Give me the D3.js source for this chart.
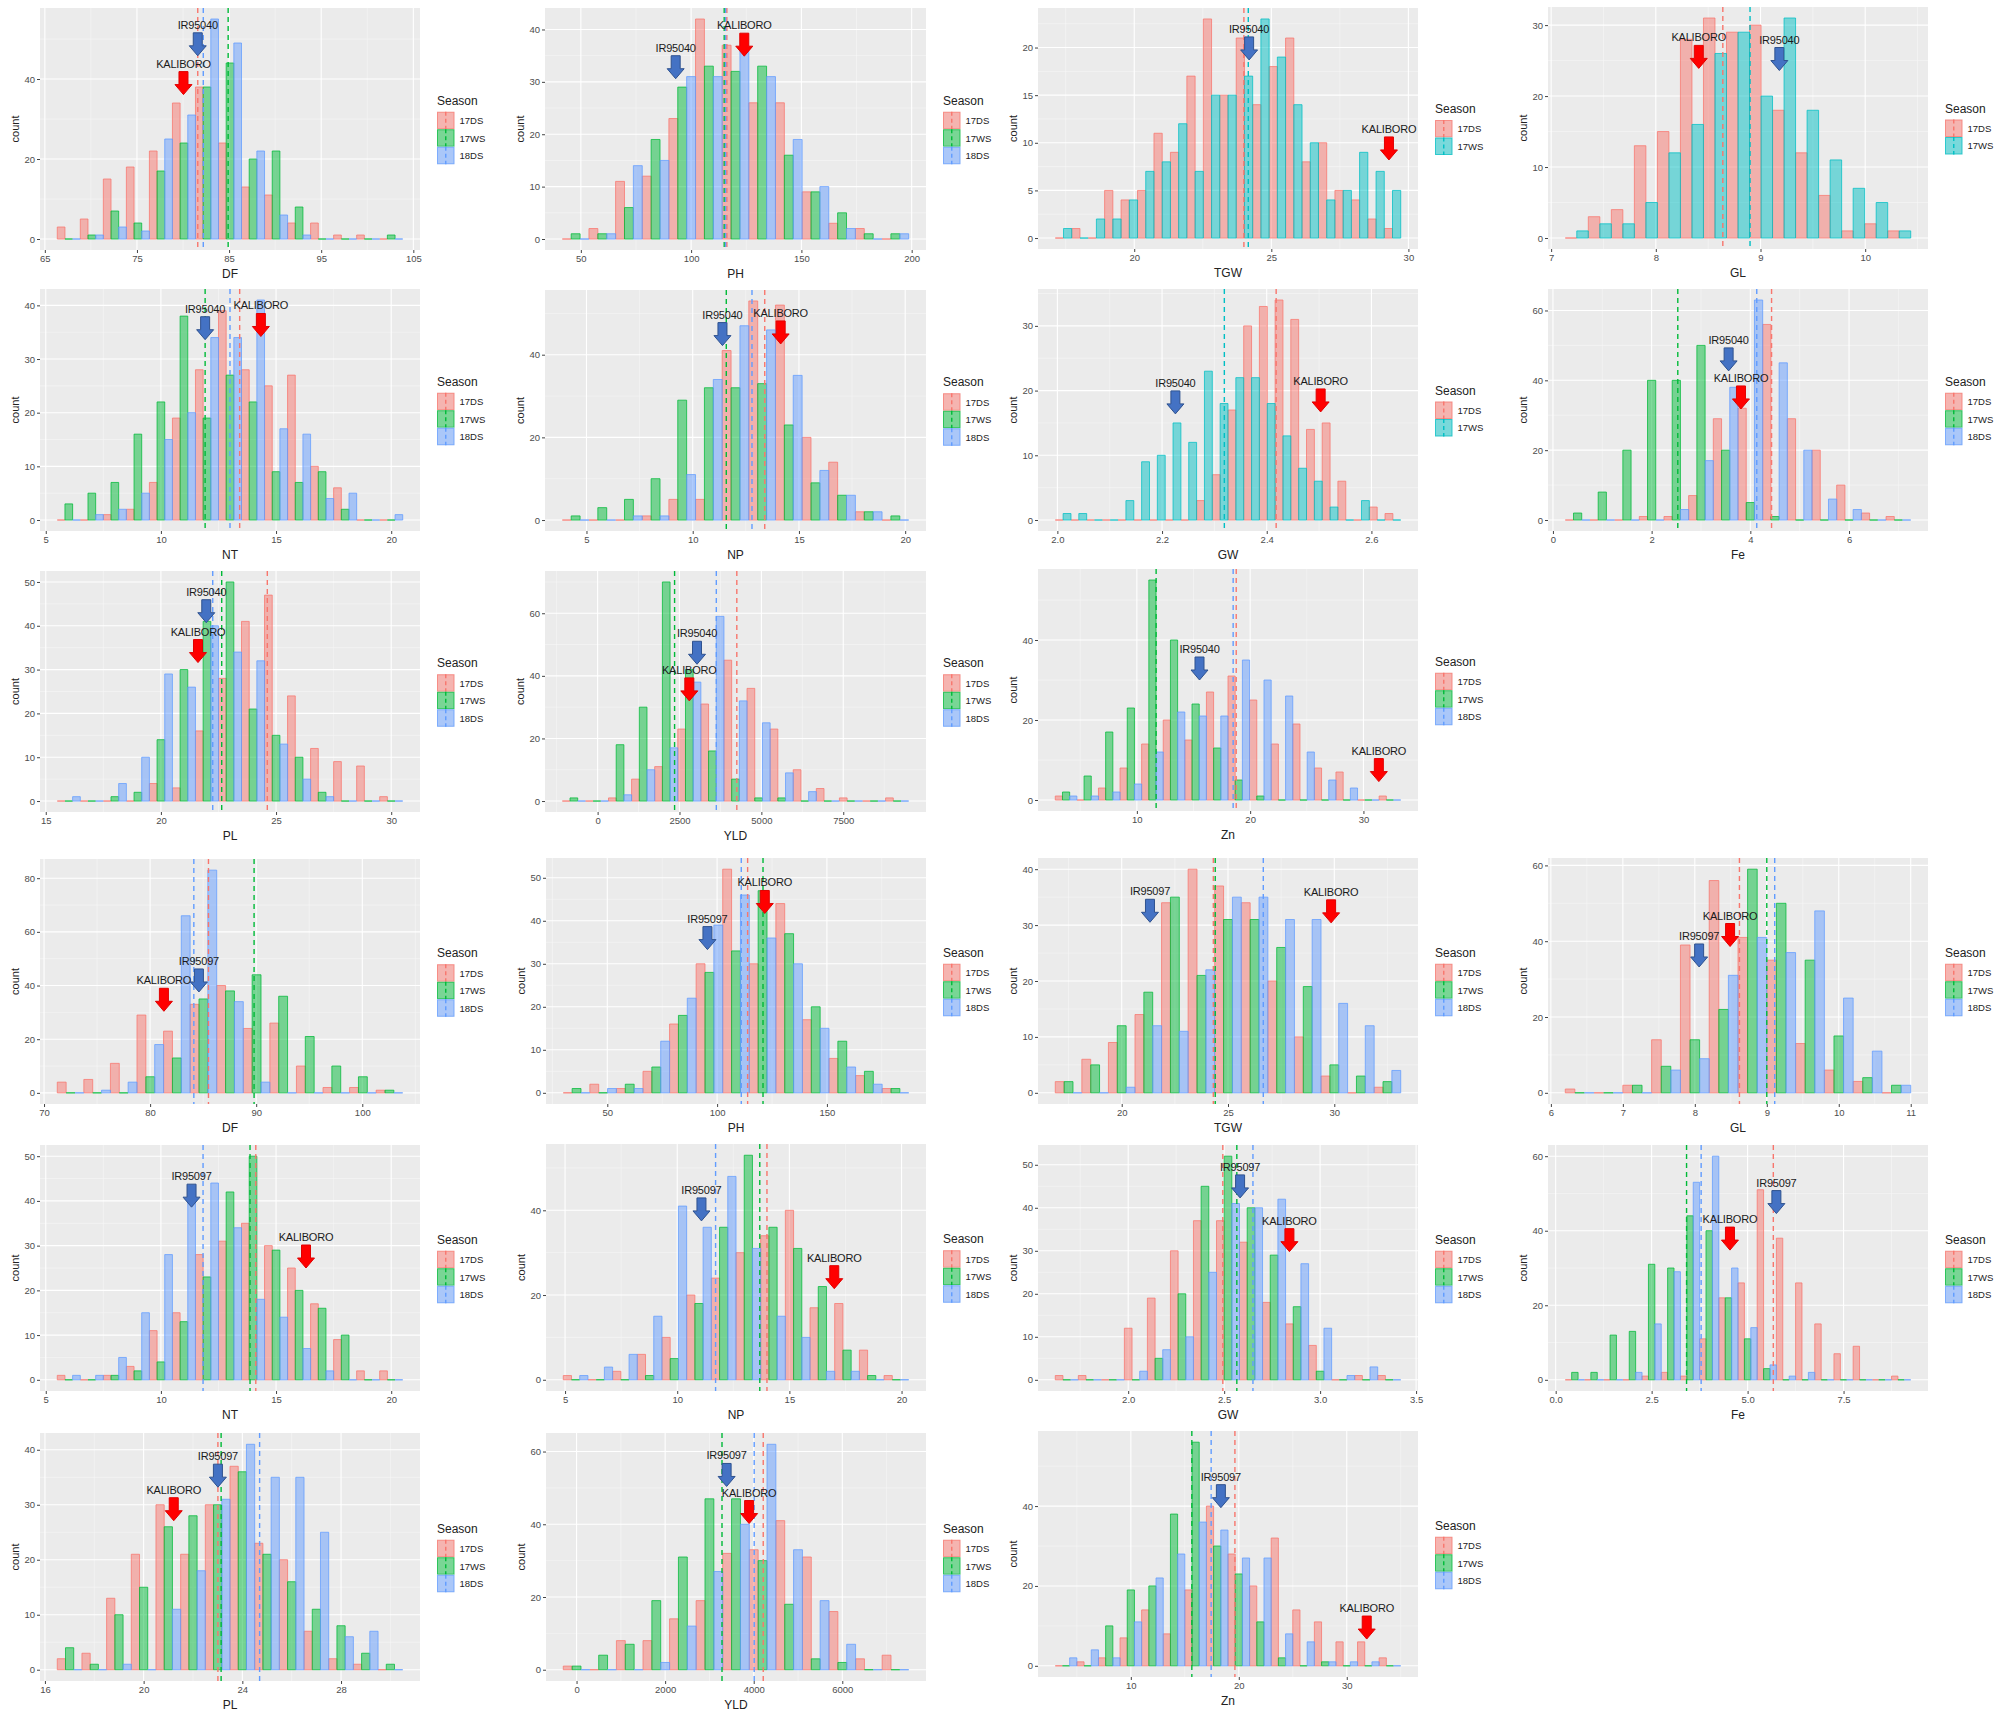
<!DOCTYPE html>
<html><head><meta charset="utf-8">
<script src="https://cdn.jsdelivr.net/npm/d3@7"></script>
<style>
body{margin:0;background:#fff;}
svg{display:block;font-family:"Liberation Sans",Arial,sans-serif;}
</style>
</head><body>
<svg id="chart" width="2007" height="1718"></svg>
<script>
// ---------------- DATA ----------------
const SEASONS3 = ["17DS","17WS","18DS"];
const SEASONS2 = ["17DS","17WS"];

// Panel 1: DF (IR95040 set)
const DF1_BIN = [67.6, 2.5];
const DF1_17DS = [3,5,15,18,22,34,38,24,13,11,4,4,1,1,0];
const DF1_17WS = [0,1,7,4,17,24,38,44,20,22,8,0,0,0,1];
const DF1_18DS = [0,1,3,2,25,31,55,49,22,6,1,0,0,0,0];
const DF1_MEAN = [81.6,84.9,82.2];
const DF1_XT = ["65","75","85","95","105"];
const DF1_YT = ["0","20","40"];
const DF1_ARROWS = [["IR95040",81.6,45.8],["KALIBORO",80.05,36.1]];

// Panel 2: PH
const PH1_BIN = [47.64, 12.08];
const PH1_17DS = [0,2,11,12,23,42,37,26,26,9,3,2,0];
const PH1_17WS = [1,1,6,19,29,33,32,33,16,9,5,1,1];
const PH1_18DS = [0,1,14,15,31,31,36,31,19,10,2,0,1];
const PH1_MEAN = [116.2,115.0,115.6];
const PH1_XT = ["50","100","150","200"];
const PH1_YT = ["0","10","20","30","40"];
const PH1_ARROWS = [["IR95040",93.0,30.6],["KALIBORO",124.1,34.9]];

// Panel 3: TGW
const TGW1_BIN = [17.42, 0.6];
const TGW1_17DS = [0,1,0,5,4,5,11,9,17,23,15,21,14,18,21,8,10,5,4,2,1];
const TGW1_17WS = [1,0,2,2,4,7,8,12,7,15,15,17,23,19,14,10,4,5,9,7,5];
const TGW1_MEAN = [24.0,24.16];
const TGW1_XT = ["20","25","30"];
const TGW1_YT = ["0","5","10","15","20"];
const TGW1_ARROWS = [["IR95040",24.19,18.7],["KALIBORO",29.29,8.2]];

// Panel 4: GL
const GL1_BIN = [7.245, 0.22];
const GL1_17DS = [0,3,4,13,15,28,31,29,30,18,12,6,1,2,1];
const GL1_17WS = [1,2,2,5,12,16,26,29,20,31,18,11,7,5,1];
const GL1_MEAN = [8.64,8.90];
const GL1_XT = ["7","8","9","10"];
const GL1_YT = ["0","10","20","30"];
const GL1_ARROWS = [["KALIBORO",8.41,23.9],["IR95040",9.18,23.6]];

// Panel 5: NT
const NT1_BIN = [6, 1];
const NT1_17DS = [0,0,1,2,7,19,28,39,28,25,27,10,6,0,0];
const NT1_17WS = [3,5,7,16,22,38,19,27,22,9,7,9,2,0,0];
const NT1_18DS = [0,1,2,5,15,20,34,34,41,17,16,4,5,0,1];
const NT1_MEAN = [13.42,11.92,13.0];
const NT1_XT = ["5","10","15","20"];
const NT1_YT = ["0","10","20","30","40"];
const NT1_ARROWS = [["IR95040",11.92,33.6],["KALIBORO",14.34,34.2]];

// Panel 6: NP
const NP1_BIN = [4.49, 1.254];
const NP1_17DS = [0,0,0,1,5,5,41,53,52,20,14,2,0];
const NP1_17WS = [1,3,5,10,29,32,32,33,23,9,6,2,1];
const NP1_18DS = [0,0,1,1,11,34,47,46,35,12,6,2,0];
const NP1_MEAN = [13.39,11.58,12.79];
const NP1_XT = ["5","10","15","20"];
const NP1_YT = ["0","20","40"];
const NP1_ARROWS = [["IR95040",11.4,42.2],["KALIBORO",14.14,42.6]];

// Panel 7: GW
const GW1_BIN = [2.011, 0.03];
const GW1_17DS = [0,0,0,0,0,0,0,0,0,3,7,17,30,33,34,31,14,15,6,0,2,1];
const GW1_17WS = [1,1,0,0,3,9,10,15,12,23,18,22,22,18,13,8,6,2,0,3,0,0];
const GW1_MEAN = [2.418,2.319];
const GW1_XT = ["2.0","2.2","2.4","2.6"];
const GW1_YT = ["0","10","20","30"];
const GW1_ARROWS = [["IR95040",2.2255,16.4],["KALIBORO",2.503,16.7]];

// Panel 8: Fe
const FE1_BIN = [0.5, 0.5];
const FE1_17DS = [0,0,0,1,1,7,29,32,56,29,20,10,2,1];
const FE1_17WS = [2,8,20,40,40,50,20,5,1,0,0,0,0,0];
const FE1_18DS = [0,0,0,0,3,17,38,63,45,20,6,3,0,0];
const FE1_MEAN = [4.43,2.53,4.13];
const FE1_XT = ["0","2","4","6"];
const FE1_YT = ["0","20","40","60"];
const FE1_ARROWS = [["IR95040",3.56,42.7],["KALIBORO",3.81,31.8]];

// Panel 9: PL
const PL1_BIN = [16, 1];
const PL1_17DS = [0,0,0,0,4,3,16,28,41,47,24,12,9,8,1];
const PL1_17WS = [0,0,1,2,14,30,41,50,21,15,10,2,0,0,0];
const PL1_18DS = [1,0,4,10,29,26,40,34,32,13,5,1,0,0,0];
const PL1_MEAN = [24.62,22.64,22.25];
const PL1_XT = ["15","20","25","30"];
const PL1_YT = ["0","10","20","30","40","50"];
const PL1_ARROWS = [["IR95040",21.97,40.7],["KALIBORO",21.61,31.6]];

// Panel 10: YLD
const YLD1_BIN = [-725, 705];
const YLD1_17DS = [0,0,1,7,11,23,31,45,36,23,10,4,1,0,1];
const YLD1_17WS = [1,0,18,30,70,42,16,7,1,1,0,0,0,0,0];
const YLD1_18DS = [0,0,2,10,17,38,59,32,25,9,3,0,0,0,0];
const YLD1_MEAN = [4250,2350,3624];
const YLD1_XT = ["0","2500","5000","7500"];
const YLD1_YT = ["0","20","40","60"];
const YLD1_ARROWS = [["IR95040",3035,43.7],["KALIBORO",2800,32]];

// Panel 11: Zn
const ZN1_BIN = [3.75, 1.906];
const ZN1_17DS = [1,0,3,8,14,20,15,27,31,25,14,19,8,7,0,1];
const ZN1_17WS = [2,6,17,23,55,40,24,13,5,1,0,0,0,0,0,0];
const ZN1_18DS = [1,1,2,4,12,22,21,21,35,30,26,12,5,3,0,0];
const ZN1_MEAN = [18.77,11.7,18.5];
const ZN1_XT = ["10","20","30"];
const ZN1_YT = ["0","20","40"];
const ZN1_ARROWS = [["IR95040",15.53,30],["KALIBORO",31.36,4.6]];

// Panel 12: DF (IR95097 set)
const DF2_BIN = [72.5, 2.505];
const DF2_17DS = [4,5,11,29,23,33,40,24,26,10,2,2,1];
const DF2_17WS = [0,0,0,6,13,35,38,44,36,21,10,6,1];
const DF2_18DS = [0,1,4,18,66,83,34,4,0,0,0,0,0];
const DF2_MEAN = [85.5,89.8,84.12];
const DF2_XT = ["70","80","90","100"];
const DF2_YT = ["0","20","40","60","80"];
const DF2_ARROWS = [["IR95097",84.6,37.6],["KALIBORO",81.3,30.4]];

// Panel 13: PH
const PH2_BIN = [36.0, 12.1];
const PH2_17DS = [0,2,1,5,16,30,52,30,44,17,8,4,1];
const PH2_17WS = [1,0,2,6,18,28,33,47,37,20,12,5,1];
const PH2_18DS = [0,1,1,12,22,39,46,36,30,15,6,2,0];
const PH2_MEAN = [113.9,120.9,111.0];
const PH2_XT = ["50","100","150"];
const PH2_YT = ["0","10","20","30","40","50"];
const PH2_ARROWS = [["IR95097",95.6,33.3],["KALIBORO",121.7,41.7]];

// Panel 14: TGW
const TGW2_BIN = [17.5, 1.25];
const TGW2_17DS = [2,6,9,14,34,40,37,34,20,10,3,0,1];
const TGW2_17WS = [2,5,12,18,35,21,31,31,26,19,5,3,2];
const TGW2_18DS = [0,0,1,12,11,22,35,35,31,31,16,12,4];
const TGW2_MEAN = [24.31,24.4,26.66];
const TGW2_XT = ["20","25","30"];
const TGW2_YT = ["0","10","20","30","40"];
const TGW2_ARROWS = [["IR95097",21.33,30.5],["KALIBORO",29.85,30.4]];

// Panel 15: GL
const GL2_BIN = [6.4, 0.4];
const GL2_17DS = [1,0,2,14,39,56,41,35,13,6,3,0];
const GL2_17WS = [0,0,2,7,14,22,59,50,35,15,4,2];
const GL2_18DS = [0,0,0,6,9,31,41,37,48,25,11,2];
const GL2_MEAN = [8.62,9.0,9.11];
const GL2_XT = ["6","7","8","9","10","11"];
const GL2_YT = ["0","20","40","60"];
const GL2_ARROWS = [["IR95097",8.06,33.2],["KALIBORO",8.49,38.6]];

// Panel 16: NT
const NT2_BIN = [6, 1];
const NT2_17DS = [1,0,1,3,11,15,28,31,35,30,25,17,9,2,2];
const NT2_17WS = [0,0,1,2,4,13,23,42,50,29,20,16,10,0,0];
const NT2_18DS = [1,1,5,15,28,40,44,34,18,14,7,2,0,0,0];
const NT2_MEAN = [14.12,13.87,11.83];
const NT2_XT = ["5","10","15","20"];
const NT2_YT = ["0","10","20","30","40","50"];
const NT2_ARROWS = [["IR95097",11.33,38.6],["KALIBORO",16.3,25]];

// Panel 17: NP
const NP2_BIN = [5.47, 1.1];
const NP2_17DS = [1,0,2,6,10,20,24,30,34,40,17,18,7,1];
const NP2_17WS = [0,0,0,1,5,18,36,53,36,31,22,7,1,0];
const NP2_18DS = [1,3,6,15,41,36,48,31,15,10,2,2,0,0];
const NP2_MEAN = [14.0,13.68,11.71];
const NP2_XT = ["5","10","15","20"];
const NP2_YT = ["0","20","40"];
const NP2_ARROWS = [["IR95097",11.08,37.5],["KALIBORO",17.0,21.5]];

// Panel 18: GW
const GW2_BIN = [1.68, 0.12];
const GW2_17DS = [1,1,0,12,19,30,37,37,32,18,13,8,0,1,1];
const GW2_17WS = [0,0,0,0,5,20,45,52,40,29,17,2,0,0,0];
const GW2_18DS = [0,0,0,2,7,10,25,41,40,42,27,12,1,3,0];
const GW2_MEAN = [2.493,2.566,2.65];
const GW2_XT = ["2.0","2.5","3.0","3.5"];
const GW2_YT = ["0","10","20","30","40","50"];
const GW2_ARROWS = [["IR95097",2.583,42.3],["KALIBORO",2.84,29.8]];

// Panel 19: Fe
const FE2_BIN = [0.5, 0.5];
const FE2_17DS = [0,0,0,0,1,2,1,11,22,26,51,38,26,15,7,9,0,1];
const FE2_17WS = [2,2,12,13,31,30,44,40,22,11,3,0,0,0,0,0,0,0];
const FE2_18DS = [0,0,0,2,15,29,53,60,30,14,4,1,2,0,0,0,0,0];
const FE2_MEAN = [5.67,3.41,3.79];
const FE2_XT = ["0.0","2.5","5.0","7.5"];
const FE2_YT = ["0","20","40","60"];
const FE2_ARROWS = [["IR95097",5.75,44.6],["KALIBORO",4.54,34.8]];

// Panel 20: PL
const PL2_BIN = [17, 1];
const PL2_17DS = [2,3,13,21,30,21,30,37,23,20,7,2,1,0];
const PL2_17WS = [4,1,10,15,26,28,30,36,21,16,11,8,3,1];
const PL2_18DS = [0,0,1,0,11,18,31,41,35,35,25,6,7,0];
const PL2_MEAN = [23.01,23.14,24.7];
const PL2_XT = ["16","20","24","28"];
const PL2_YT = ["0","10","20","30","40"];
const PL2_ARROWS = [["IR95097",23.01,33.2],["KALIBORO",21.22,27.1]];

// Panel 21: YLD
const YLD2_BIN = [0, 600];
const YLD2_17DS = [1,0,8,8,14,19,32,33,41,31,16,3,4];
const YLD2_17WS = [1,4,7,19,31,47,47,30,18,3,2,0,0];
const YLD2_18DS = [0,0,0,2,12,27,40,62,33,19,7,0,0];
const YLD2_MEAN = [4215,3284,4011];
const YLD2_XT = ["0","2000","4000","6000"];
const YLD2_YT = ["0","20","40","60"];
const YLD2_ARROWS = [["IR95097",3388,50.4],["KALIBORO",3896,40.2]];

// Panel 22: Zn
const ZN2_BIN = [4, 2];
const ZN2_17DS = [0,1,2,7,14,8,19,40,28,20,32,14,11,6,6,2];
const ZN2_17WS = [0,0,10,19,20,38,56,30,23,11,2,0,1,0,0,0];
const ZN2_18DS = [2,4,2,11,22,28,36,34,27,27,8,6,1,1,1,0];
const ZN2_MEAN = [19.64,15.65,17.44];
const ZN2_XT = ["10","20","30"];
const ZN2_YT = ["0","20","40"];
const ZN2_ARROWS = [["IR95097",18.34,39.6],["KALIBORO",31.85,6.7]];

// ---------------- LAYOUT (panel background boxes, px) ----------------
const BOXES = [
  [40,420,8,250],[545,926,8,250],[1038,1418,8,249],[1548,1928,7,249],
  [40,420,289,531],[545,926,290,531],[1038,1418,289,531],[1548,1928,289,531],
  [40,420,571,812],[545,926,571,812],[1038,1418,569,811],
  [40,420,859,1104],[546,926,858,1104],[1038,1418,858,1104],[1548,1928,858,1104],
  [40,420,1145,1391],[546,926,1144,1391],[1038,1418,1145,1391],[1548,1928,1145,1391],
  [40,420,1433,1681],[546,926,1433,1681],[1038,1418,1431,1677]
];

const PANELS = [
  ["DF",DF1_BIN,[DF1_17DS,DF1_17WS,DF1_18DS],SEASONS3,DF1_MEAN,DF1_XT,DF1_YT,DF1_ARROWS],
  ["PH",PH1_BIN,[PH1_17DS,PH1_17WS,PH1_18DS],SEASONS3,PH1_MEAN,PH1_XT,PH1_YT,PH1_ARROWS],
  ["TGW",TGW1_BIN,[TGW1_17DS,TGW1_17WS],SEASONS2,TGW1_MEAN,TGW1_XT,TGW1_YT,TGW1_ARROWS],
  ["GL",GL1_BIN,[GL1_17DS,GL1_17WS],SEASONS2,GL1_MEAN,GL1_XT,GL1_YT,GL1_ARROWS],
  ["NT",NT1_BIN,[NT1_17DS,NT1_17WS,NT1_18DS],SEASONS3,NT1_MEAN,NT1_XT,NT1_YT,NT1_ARROWS],
  ["NP",NP1_BIN,[NP1_17DS,NP1_17WS,NP1_18DS],SEASONS3,NP1_MEAN,NP1_XT,NP1_YT,NP1_ARROWS],
  ["GW",GW1_BIN,[GW1_17DS,GW1_17WS],SEASONS2,GW1_MEAN,GW1_XT,GW1_YT,GW1_ARROWS],
  ["Fe",FE1_BIN,[FE1_17DS,FE1_17WS,FE1_18DS],SEASONS3,FE1_MEAN,FE1_XT,FE1_YT,FE1_ARROWS],
  ["PL",PL1_BIN,[PL1_17DS,PL1_17WS,PL1_18DS],SEASONS3,PL1_MEAN,PL1_XT,PL1_YT,PL1_ARROWS],
  ["YLD",YLD1_BIN,[YLD1_17DS,YLD1_17WS,YLD1_18DS],SEASONS3,YLD1_MEAN,YLD1_XT,YLD1_YT,YLD1_ARROWS],
  ["Zn",ZN1_BIN,[ZN1_17DS,ZN1_17WS,ZN1_18DS],SEASONS3,ZN1_MEAN,ZN1_XT,ZN1_YT,ZN1_ARROWS],
  ["DF",DF2_BIN,[DF2_17DS,DF2_17WS,DF2_18DS],SEASONS3,DF2_MEAN,DF2_XT,DF2_YT,DF2_ARROWS],
  ["PH",PH2_BIN,[PH2_17DS,PH2_17WS,PH2_18DS],SEASONS3,PH2_MEAN,PH2_XT,PH2_YT,PH2_ARROWS],
  ["TGW",TGW2_BIN,[TGW2_17DS,TGW2_17WS,TGW2_18DS],SEASONS3,TGW2_MEAN,TGW2_XT,TGW2_YT,TGW2_ARROWS],
  ["GL",GL2_BIN,[GL2_17DS,GL2_17WS,GL2_18DS],SEASONS3,GL2_MEAN,GL2_XT,GL2_YT,GL2_ARROWS],
  ["NT",NT2_BIN,[NT2_17DS,NT2_17WS,NT2_18DS],SEASONS3,NT2_MEAN,NT2_XT,NT2_YT,NT2_ARROWS],
  ["NP",NP2_BIN,[NP2_17DS,NP2_17WS,NP2_18DS],SEASONS3,NP2_MEAN,NP2_XT,NP2_YT,NP2_ARROWS],
  ["GW",GW2_BIN,[GW2_17DS,GW2_17WS,GW2_18DS],SEASONS3,GW2_MEAN,GW2_XT,GW2_YT,GW2_ARROWS],
  ["Fe",FE2_BIN,[FE2_17DS,FE2_17WS,FE2_18DS],SEASONS3,FE2_MEAN,FE2_XT,FE2_YT,FE2_ARROWS],
  ["PL",PL2_BIN,[PL2_17DS,PL2_17WS,PL2_18DS],SEASONS3,PL2_MEAN,PL2_XT,PL2_YT,PL2_ARROWS],
  ["YLD",YLD2_BIN,[YLD2_17DS,YLD2_17WS,YLD2_18DS],SEASONS3,YLD2_MEAN,YLD2_XT,YLD2_YT,YLD2_ARROWS],
  ["Zn",ZN2_BIN,[ZN2_17DS,ZN2_17WS,ZN2_18DS],SEASONS3,ZN2_MEAN,ZN2_XT,ZN2_YT,ZN2_ARROWS]
];

// ---------------- DRAWING ----------------
const COLORS3 = {"17DS":"#F8766D","17WS":"#00BA38","18DS":"#619CFF"};
const COLORS2 = {"17DS":"#F8766D","17WS":"#00BFC4"};
const svg = d3.select("#chart");
svg.append("rect").attr("width",2007).attr("height",1718).attr("fill","#fff");

function minorBreaks(ticks, dom){
  const st = ticks[1]-ticks[0], out=[];
  for(let v=ticks[0]-st/2; v<=dom[1]+1e-9; v+=st){ if(v>=dom[0]) out.push(v); }
  return out;
}

PANELS.forEach((P,pi)=>{
  const [name, bin, series, seasons, means, xtl, ytl, arrows] = P;
  const [x0,x1,y0,y1] = BOXES[pi];
  const colors = seasons.length===3 ? COLORS3 : COLORS2;
  const n = series.length, nb = series[0].length;
  const [c0,w] = bin;
  const lo = c0 - w/2, hi = c0 + (nb-0.5)*w, ex = (hi-lo)*0.05;
  const x = d3.scaleLinear().domain([lo-ex, hi+ex]).range([x0,x1]);
  const ymax = d3.max(series, s=>d3.max(s));
  const y = d3.scaleLinear().domain([-0.05*ymax, 1.05*ymax]).range([y1,y0]);
  const xt = xtl.map(Number), yt = ytl.map(Number);
  const g = svg.append("g");

  g.append("rect").attr("x",x0).attr("y",y0).attr("width",x1-x0).attr("height",y1-y0).attr("fill","#EBEBEB");
  // minor grid
  minorBreaks(xt, x.domain()).forEach(v=>g.append("line").attr("x1",x(v)).attr("x2",x(v)).attr("y1",y0).attr("y2",y1).attr("stroke","#F6F6F6").attr("stroke-width",0.6));
  minorBreaks(yt, y.domain()).forEach(v=>g.append("line").attr("y1",y(v)).attr("y2",y(v)).attr("x1",x0).attr("x2",x1).attr("stroke","#F6F6F6").attr("stroke-width",0.6));
  // major grid
  xt.forEach(v=>g.append("line").attr("x1",x(v)).attr("x2",x(v)).attr("y1",y0).attr("y2",y1).attr("stroke","#fff").attr("stroke-width",1.1));
  yt.forEach(v=>g.append("line").attr("y1",y(v)).attr("y2",y(v)).attr("x1",x0).attr("x2",x1).attr("stroke","#fff").attr("stroke-width",1.1));

  // bars (dodged histogram)
  const bars = [];
  series.forEach((s,si)=>s.forEach((cnt,bi)=>{
    const left = c0 - w/2 + bi*w + si*w/n;
    bars.push({si, cnt, xa:left, xb:left+w/n});
  }));
  g.selectAll("path.bar").data(bars).join("path").attr("class","bar")
    .attr("d",d=>{const a=x(d.xa), b=x(d.xb), t=y(d.cnt), z=y(0); return `M${a},${z}H${b}V${t}H${a}Z`;})
    .attr("fill",d=>colors[seasons[d.si]]).attr("fill-opacity",0.5)
    .attr("stroke",d=>colors[seasons[d.si]]).attr("stroke-opacity",0.75).attr("stroke-width",1);

  // mean lines
  means.forEach((m,si)=>g.append("line").attr("x1",x(m)).attr("x2",x(m)).attr("y1",y0).attr("y2",y1)
    .attr("stroke",colors[seasons[si]]).attr("stroke-width",1.4).attr("stroke-dasharray","5,4"));

  // axes
  const ax = g.append("g").attr("transform",`translate(0,${y1})`)
    .call(d3.axisBottom(x).tickValues(xt).tickFormat((d,i)=>xtl[i]).tickSize(3).tickPadding(2));
  const ay = g.append("g").attr("transform",`translate(${x0},0)`)
    .call(d3.axisLeft(y).tickValues(yt).tickFormat((d,i)=>ytl[i]).tickSize(3).tickPadding(2));
  [ax,ay].forEach(a=>{
    a.select(".domain").remove();
    a.selectAll("line").attr("stroke","#444");
    a.selectAll("text").attr("fill","#4D4D4D").attr("font-size",9.5).attr("font-family","Liberation Sans, Arial, sans-serif");
  });
  g.append("text").attr("x",(x0+x1)/2).attr("y",y1+28).attr("text-anchor","middle")
    .attr("font-size",12).attr("fill","#222").text(name);
  g.append("text").attr("transform",`translate(${x0-21},${(y0+y1)/2}) rotate(-90)`).attr("text-anchor","middle")
    .attr("font-size",11).attr("fill","#222").text("count");

  // arrows with labels
  arrows.forEach(([lab,ax_,ay_])=>{
    const px = x(ax_), py = y(ay_);
    const isRed = lab==="KALIBORO";
    const L=23, sw=4.5, hw=8.5, hl=10;
    g.append("path").attr("d",`M${px-sw},${py-L}H${px+sw}V${py-hl}H${px+hw}L${px},${py}L${px-hw},${py-hl}H${px-sw}Z`)
      .attr("fill",isRed?"#FF0000":"#4472C4").attr("stroke",isRed?"#E00000":"#2F528F").attr("stroke-width",1);
    g.append("text").attr("x",px).attr("y",py-L-4).attr("text-anchor","middle")
      .attr("font-size",11).attr("fill","#1a1a1a").attr("letter-spacing","-0.2").text(lab);
  });

  // legend
  const lx = x1 + 17, kh = 17.5, yc = (y0+y1)/2;
  const total = 18 + n*kh;
  const ly = yc - total/2;
  g.append("text").attr("x",lx).attr("y",ly+11).attr("font-size",12).attr("fill","#222").text("Season");
  seasons.forEach((s,i)=>{
    const ky = ly + 18 + i*kh;
    g.append("rect").attr("x",lx).attr("y",ky).attr("width",kh).attr("height",kh).attr("fill","#F2F2F2");
    g.append("rect").attr("x",lx+0.5).attr("y",ky+0.5).attr("width",kh-1).attr("height",kh-1)
      .attr("fill",colors[s]).attr("fill-opacity",0.5).attr("stroke",colors[s]).attr("stroke-opacity",0.75);
    g.append("line").attr("x1",lx+kh/2).attr("x2",lx+kh/2).attr("y1",ky).attr("y2",ky+kh)
      .attr("stroke",colors[s]).attr("stroke-width",1.4).attr("stroke-dasharray","4,3");
    g.append("text").attr("x",lx+kh+5).attr("y",ky+kh/2+3.5).attr("font-size",9.5).attr("fill","#222").text(s);
  });
});
</script>
</body></html>
